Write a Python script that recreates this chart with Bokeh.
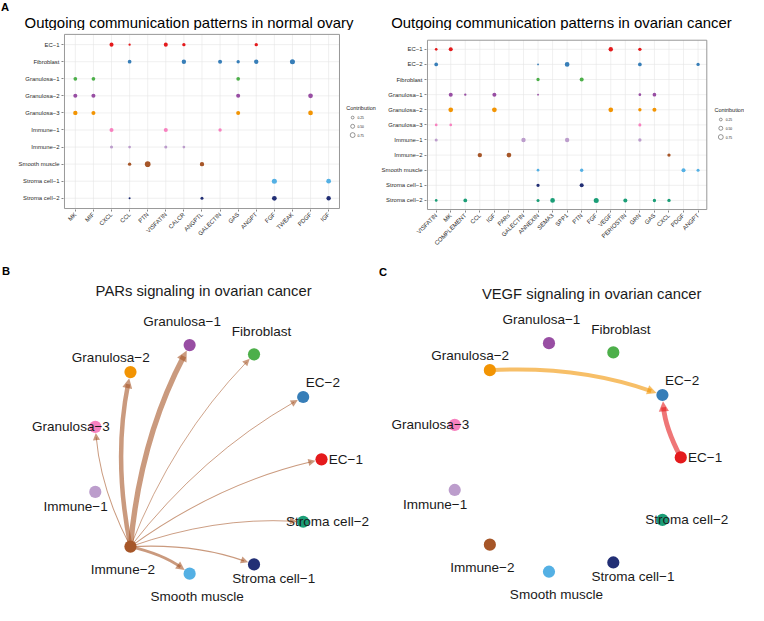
import math
from bokeh.plotting import figure
from bokeh.models import Range1d, FixedTicker, Arrow, NormalHead
from bokeh.layouts import row, column
from bokeh.embed import file_html
from bokeh.resources import INLINE
from bokeh.core.properties import value

S = 605 / 621
FONT = "Liberation Sans"
INK = "#1A1A1A"
DOT = 5.8          # diameter (ref px) of a dot with contribution 1
EDGE_W = 5.8       # width (ref px) of an edge with weight 1
LETTER_PX = 11.5

# ---------------- data: panel A, normal ovary ----------------
normal_cells = ["EC−1", "Fibroblast", "Granulosa−1", "Granulosa−2", "Granulosa−3",
                "Immune−1", "Immune−2", "Smooth muscle", "Stroma cell−1", "Stroma cell−2"]
normal_colors = ["#E41A1C", "#377EB8", "#4DAF4A", "#984EA3", "#F29403",
                 "#F781BF", "#BC9DCC", "#A65628", "#54B0E4", "#222F75"]
normal_paths = ["MK", "MIF", "CXCL", "CCL", "PTN", "VISFATIN", "CALCR", "ANGPTL",
                "GALECTIN", "GAS", "ANGPT", "FGF", "TWEAK", "PDGF", "IGF"]
normal_dot_cell = ["EC−1", "EC−1", "EC−1", "EC−1", "EC−1",
                   "Fibroblast", "Fibroblast", "Fibroblast", "Fibroblast", "Fibroblast", "Fibroblast",
                   "Granulosa−1", "Granulosa−1", "Granulosa−1",
                   "Granulosa−2", "Granulosa−2", "Granulosa−2", "Granulosa−2",
                   "Granulosa−3", "Granulosa−3", "Granulosa−3", "Granulosa−3",
                   "Immune−1", "Immune−1", "Immune−1",
                   "Immune−2", "Immune−2", "Immune−2", "Immune−2",
                   "Smooth muscle", "Smooth muscle", "Smooth muscle",
                   "Stroma cell−1", "Stroma cell−1",
                   "Stroma cell−2", "Stroma cell−2", "Stroma cell−2", "Stroma cell−2"]
normal_dot_path = ["CXCL", "CCL", "VISFATIN", "CALCR", "ANGPT",
                   "CCL", "CALCR", "GALECTIN", "GAS", "ANGPT", "TWEAK",
                   "MK", "MIF", "GAS",
                   "MK", "MIF", "GAS", "PDGF",
                   "MK", "MIF", "GAS", "PDGF",
                   "CXCL", "VISFATIN", "GALECTIN",
                   "CXCL", "CCL", "VISFATIN", "CALCR",
                   "CCL", "PTN", "ANGPTL",
                   "FGF", "IGF",
                   "CCL", "ANGPTL", "FGF", "IGF"]
normal_dot_value = [0.51, 0.17, 0.51, 0.35, 0.35,
                    0.43, 0.60, 0.51, 0.35, 0.60, 0.80,
                    0.43, 0.43, 0.43,
                    0.51, 0.51, 0.51, 0.70,
                    0.60, 0.51, 0.51, 0.70,
                    0.51, 0.51, 0.35,
                    0.29, 0.23, 0.29, 0.23,
                    0.35, 1.00, 0.60,
                    0.80, 0.70,
                    0.13, 0.29, 0.70, 0.60]

# ---------------- data: panel A, ovarian cancer ----------------
cancer_cells = ["EC−1", "EC−2", "Fibroblast", "Granulosa−1", "Granulosa−2", "Granulosa−3",
                "Immune−1", "Immune−2", "Smooth muscle", "Stroma cell−1", "Stroma cell−2"]
cancer_colors = ["#E41A1C", "#377EB8", "#4DAF4A", "#984EA3", "#F29403", "#F781BF",
                 "#BC9DCC", "#A65628", "#54B0E4", "#222F75", "#1B9E77"]
cancer_paths = ["VISFATIN", "MK", "COMPLEMENT", "CCL", "IGF", "PARs", "GALECTIN", "ANNEXIN",
                "SEMA3", "SPP1", "PTN", "FGF", "VEGF", "PERIOSTIN", "GRN", "GAS", "CXCL",
                "PDGF", "ANGPT"]
cancer_dot_cell = ["EC−1", "EC−1", "EC−1", "EC−1",
                   "EC−2", "EC−2", "EC−2", "EC−2", "EC−2",
                   "Fibroblast", "Fibroblast",
                   "Granulosa−1", "Granulosa−1", "Granulosa−1", "Granulosa−1", "Granulosa−1", "Granulosa−1",
                   "Granulosa−2", "Granulosa−2", "Granulosa−2", "Granulosa−2", "Granulosa−2",
                   "Granulosa−3", "Granulosa−3", "Granulosa−3",
                   "Immune−1", "Immune−1", "Immune−1", "Immune−1",
                   "Immune−2", "Immune−2", "Immune−2",
                   "Smooth muscle", "Smooth muscle", "Smooth muscle", "Smooth muscle",
                   "Stroma cell−1", "Stroma cell−1",
                   "Stroma cell−2", "Stroma cell−2", "Stroma cell−2", "Stroma cell−2",
                   "Stroma cell−2", "Stroma cell−2", "Stroma cell−2", "Stroma cell−2"]
cancer_dot_path = ["VISFATIN", "MK", "VEGF", "GRN",
                   "VISFATIN", "ANNEXIN", "SPP1", "GRN", "ANGPT",
                   "ANNEXIN", "PTN",
                   "MK", "COMPLEMENT", "IGF", "ANNEXIN", "GRN", "GAS",
                   "MK", "IGF", "VEGF", "GRN", "GAS",
                   "VISFATIN", "MK", "GRN",
                   "VISFATIN", "GALECTIN", "SPP1", "GRN",
                   "CCL", "PARs", "CXCL",
                   "ANNEXIN", "PTN", "PDGF", "ANGPT",
                   "ANNEXIN", "PTN",
                   "VISFATIN", "COMPLEMENT", "ANNEXIN", "SEMA3",
                   "FGF", "PERIOSTIN", "GAS", "CXCL"]
cancer_dot_value = [0.23, 0.51, 0.60, 0.35,
                    0.43, 0.10, 0.70, 0.43, 0.35,
                    0.35, 0.51,
                    0.51, 0.17, 0.51, 0.10, 0.23, 0.43,
                    0.70, 0.70, 0.70, 0.35, 0.51,
                    0.23, 0.23, 0.29,
                    0.29, 0.60, 0.60, 0.35,
                    0.60, 0.70, 0.35,
                    0.23, 0.35, 0.51, 0.29,
                    0.35, 0.51,
                    0.23, 0.43, 0.29, 0.70,
                    0.80, 0.51, 0.35, 0.35]
legend_values = [0.25, 0.50, 0.75]

# ---------------- data: panels B and C ----------------
pars_sources = ["Immune−2"] * 9
pars_targets = ["EC−1", "EC−2", "Fibroblast", "Granulosa−1", "Granulosa−2",
                "Granulosa−3", "Smooth muscle", "Stroma cell−1", "Stroma cell−2"]
pars_weights = [0.18, 0.17, 0.16, 0.95, 0.80, 0.18, 0.50, 0.22, 0.17]

vegf_sources = ["Granulosa−2", "EC−1"]
vegf_targets = ["EC−2", "EC−2"]
vegf_weights = [0.70, 0.85]


def fs(px):
    return f"{px * S:.2f}px"


def blank_fig(fw, fh, xr, yr):
    p = figure(width=round(fw * S), height=round(fh * S), x_range=xr, y_range=yr,
               output_backend="svg", toolbar_location=None, min_border=0,
               x_axis_location=None, y_axis_location=None)
    p.frame_align = False
    p.outline_line_color = None
    p.grid.visible = False
    return p


def title_fig(fw, fh, title, tx, ty, letter=None):
    # coordinates are reference pixels of this strip (y downwards)
    p = blank_fig(fw, fh, Range1d(0, fw), Range1d(fh, 0))
    p.text(x=[tx], y=[ty], text=[title], text_font=value(FONT), text_font_size=fs(15.3),
           text_align="center", text_baseline="middle", text_color="black")
    if letter:
        p.text(x=[0.5], y=[6.5], text=[letter], text_font=value(FONT), text_font_style="bold",
               text_font_size=fs(LETTER_PX), text_align="left", text_baseline="middle",
               text_color="black")
    return p


def dot_panel(cells, colors, paths, d_cell, d_path, d_val, fw, fh, box, leg_xy):
    bl, bt, br, bb = box
    nc, nr = len(paths), len(cells)
    ux = (br - bl) / (nc + 0.2)
    uy = (bb - bt) / (nr + 0.2)

    def X(px):
        return -0.6 + (px - bl) / ux

    def Y(py):
        return (nr - 0.4) - (py - bt) / uy

    p = figure(width=round(fw * S), height=round(fh * S),
               x_range=Range1d(X(bl - 1), X(fw)), y_range=Range1d(Y(bb + 1), Y(0)),
               output_backend="svg", toolbar_location=None,
               min_border_left=round((bl - 1) * S), min_border_right=0,
               min_border_top=0, min_border_bottom=round((fh - bb - 1) * S))
    p.frame_align = False
    p.outline_line_color = None
    p.grid.visible = False

    xa = p.xaxis[0]
    ya = p.yaxis[0]
    xa.ticker = FixedTicker(ticks=list(range(nc)))
    xa.major_label_overrides = {i: t for i, t in enumerate(paths)}
    xa.major_label_orientation = math.pi / 4
    ya.ticker = FixedTicker(ticks=list(range(nr)))
    ya.major_label_overrides = {nr - 1 - j: c for j, c in enumerate(cells)}
    for ax in (xa, ya):
        ax.axis_line_color = None
        ax.major_tick_in = 0
        ax.major_tick_out = 2
        ax.major_tick_line_color = "#333333"
        ax.major_tick_line_width = 0.6
        ax.minor_tick_line_color = None
        ax.major_label_text_font = FONT
        ax.major_label_text_font_size = fs(6.1)
        ax.major_label_text_color = "#2B2B2B"
        ax.major_label_standoff = 2

    gx = list(range(nc))
    gy = list(range(nr))
    p.segment(x0=gx, y0=[-0.6] * nc, x1=gx, y1=[nr - 0.4] * nc,
              line_color="#E6E6E6", line_width=0.6)
    p.segment(x0=[-0.6] * nr, y0=gy, x1=[nc - 0.4] * nr, y1=gy,
              line_color="#E6E6E6", line_width=0.6)
    p.quad(left=[-0.6], right=[nc - 0.4], bottom=[-0.6], top=[nr - 0.4],
           fill_color=None, line_color="#8C8C8C", line_width=0.9)

    xs = [paths.index(q) for q in d_path]
    ys = [nr - 1 - cells.index(c) for c in d_cell]
    sz = [DOT * math.sqrt(v) * S for v in d_val]
    cl = [colors[cells.index(c)] for c in d_cell]
    p.scatter(x=xs, y=ys, size=sz, fill_color=cl, line_color=None)

    # size legend
    lx, ly = leg_xy
    p.text(x=[X(lx)], y=[Y(ly)], text=["Contribution"], text_font=value(FONT),
           text_font_size=fs(5.6), text_align="left", text_baseline="middle", text_color=INK)
    lys = [Y(ly + 9.5 + 9 * i) for i in range(len(legend_values))]
    p.scatter(x=[X(lx + 6.5)] * len(legend_values), y=lys,
              size=[DOT * math.sqrt(v) * S for v in legend_values],
              fill_color=None, line_color="#333333", line_width=0.5)
    p.text(x=[X(lx + 11.5)] * len(legend_values), y=lys,
           text=[f"{v:.2f}" for v in legend_values], text_font=value(FONT),
           text_font_size=fs(3.4), text_align="left", text_baseline="middle", text_color=INK)
    return p


def net_panel(title, letter, nodes, colors, src, tgt, wts,
              fw, fh, cx, cy, R, title_xy, letter_xy):
    n = len(nodes)

    def X(px):
        return (px - cx) / R

    def Y(py):
        return (cy - py) / R

    p = blank_fig(fw, fh, Range1d(X(0), X(fw)), Range1d(Y(fh), Y(0)))

    th = [2 * math.pi * k / n for k in range(n)]
    nx = [math.cos(t) for t in th]
    ny = [math.sin(t) for t in th]

    rn = 6.4 / R
    for s_, t_, w_ in zip(src, tgt, wts):
        i, j = nodes.index(s_), nodes.index(t_)
        col = colors[i]
        x0, y0, x2, y2 = nx[i], ny[i], nx[j], ny[j]
        dx, dy = x2 - x0, y2 - y0
        cxp = (x0 + x2) / 2 - 0.1 * dy
        cyp = (y0 + y2) / 2 + 0.1 * dx
        tx, ty = x2 - cxp, y2 - cyp
        L = math.hypot(tx, ty)
        tx, ty = tx / L, ty / L
        tipx, tipy = x2 - rn * tx, y2 - rn * ty
        lw = EDGE_W * w_
        hl = 6.5 + 0.8 * lw
        ex, ey = tipx - 0.6 * hl / R * tx, tipy - 0.6 * hl / R * ty
        p.quadratic(x0=[x0], y0=[y0], x1=[ex], y1=[ey], cx=[cxp], cy=[cyp],
                    line_color=col, line_alpha=0.6, line_width=lw * S)
        p.add_layout(Arrow(end=NormalHead(size=hl * S, fill_color=col, fill_alpha=0.6,
                                          line_color=None),
                           x_start=tipx - hl / R * tx, y_start=tipy - hl / R * ty,
                           x_end=tipx, y_end=tipy, line_alpha=0, line_width=0.1))

    p.scatter(x=nx, y=ny, size=12.5 * S, fill_color=colors, line_color=None)

    d = 25 / R
    ph = [2 * math.pi * k / (n - 1) for k in range(n)]
    lxs = [nx[k] + d * math.cos(ph[k]) for k in range(n)]
    lys = [ny[k] + d * math.sin(ph[k]) for k in range(n)]
    p.text(x=lxs, y=lys, text=nodes, text_font=value(FONT), text_font_size=fs(13.9),
           text_align="center", text_baseline="middle", text_color=INK)

    p.text(x=[X(title_xy[0])], y=[Y(title_xy[1])], text=[title], text_font=value(FONT),
           text_font_size=fs(15.2), text_align="center", text_baseline="middle", text_color=INK)
    p.text(x=[X(letter_xy[0])], y=[Y(letter_xy[1])], text=[letter], text_font=value(FONT),
           text_font_style="bold", text_font_size=fs(LETTER_PX), text_align="left",
           text_baseline="middle", text_color="black")
    return p


tA1 = title_fig(388, 31, "Outgoing communication patterns in normal ovary", 193.5, 23, "A")
pA1 = dot_panel(normal_cells, normal_colors, normal_paths, normal_dot_cell, normal_dot_path,
                normal_dot_value, 388, 241, (66, 4, 348, 183), (355, 80))
tA2 = title_fig(376, 31, "Outgoing communication patterns in ovarian cancer", 188, 23)
pA2 = dot_panel(cancer_cells, cancer_colors, cancer_paths, cancer_dot_cell, cancer_dot_path,
                cancer_dot_value, 376, 241, (48, 10, 337, 184), (345, 82))
pB = net_panel("PARs signaling in ovarian cancer", "B", cancer_cells, cancer_colors,
               pars_sources, pars_targets, pars_weights,
               388, 349, 211, 199, 118.5, (208.5, 26), (1.5, 5.5))
pC = net_panel("VEGF signaling in ovarian cancer", "C", cancer_cells, cancer_colors,
               vegf_sources, vegf_targets, vegf_weights,
               376, 349, 192, 197, 118.5, (219, 29), (0.5, 6.5))

layout = column(row(column(tA1, pA1), column(tA2, pA2)), row(pB, pC))
open("out.html", "w").write(file_html(layout, INLINE))
